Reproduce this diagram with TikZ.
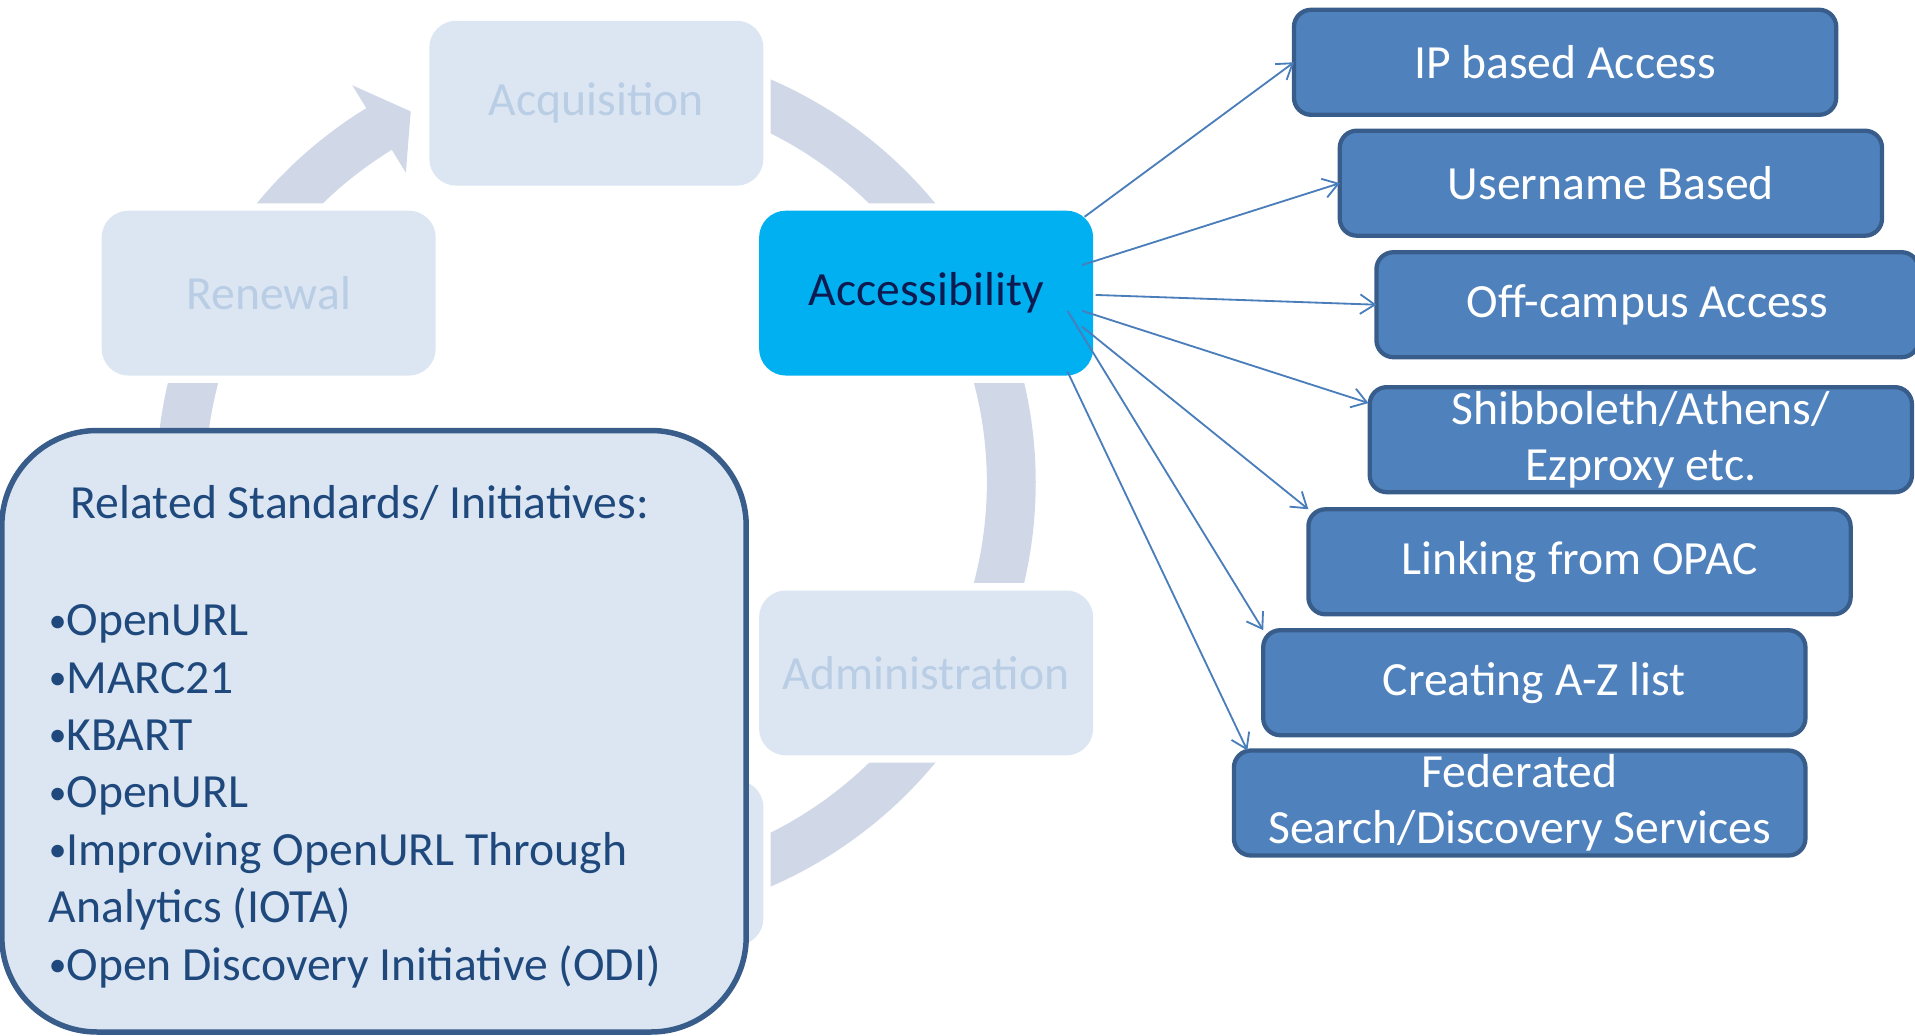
\documentclass[tikz,border=0pt]{standalone}
\usepackage{fontspec}
\setmainfont{Carlito}
\usetikzlibrary{arrows.meta,calc}
\definecolor{ringc}{HTML}{D0D8E8}
\definecolor{lightfill}{HTML}{DCE6F2}
\definecolor{lighttext}{HTML}{B9CDE5}
\definecolor{accfill}{HTML}{00B0F0}
\definecolor{acctext}{HTML}{0E1B50}
\definecolor{bluefill}{HTML}{4F81BD}
\definecolor{blueline}{HTML}{385D8A}
\definecolor{arrowc}{HTML}{4A7EBB}
\definecolor{stdtext}{HTML}{1F497D}
\newcommand{\mybul}{\raisebox{3pt}{\fontsize{29}{29}\selectfont •}}
\begin{document}
\begin{tikzpicture}[x=1pt,y=-1pt,
  every node/.style={inner sep=0pt, outer sep=0pt},
  bigfont/.style={font=\fontsize{39}{46}\selectfont},
  cyclebox/.style={rectangle, rounded corners=22pt, minimum width=273.5pt, minimum height=135pt,
     fill=lightfill, preaction={draw=white, line width=12pt}, text=lighttext, bigfont},
  accbox/.style={cyclebox, fill=accfill, text=acctext},
  optbox/.style={rectangle, rounded corners=14pt, minimum width=444pt, minimum height=86pt,
     fill=bluefill, draw=blueline, line width=3.5pt, text=white, bigfont, align=center},
  connarrow/.style={draw=arrowc, line width=1.5pt,
     -{Straight Barb[length=12pt,width=16pt,line width=1.5pt]}}
]
\useasboundingbox (0,0) rectangle (1568,847.5);

% cycle ring with arrow head
\fill[ringc, shift={(488,395.5)}]
  (-80:360) arc[start angle=-80, end angle=238.5, radius=360]
  -- (238.5:382) -- (243.5:340) -- (238.5:298) -- (238.5:320)
  arc[start angle=238.5, end angle=-80, radius=320] -- cycle;

% cycle boxes
\node[cyclebox] (acq) at (488.3,84.5) {Acquisition};
\node[cyclebox] (ren) at (220,240) {Renewal};
\node[accbox] (acc) at (758.3,240) {Accessibility};
\node[cyclebox] (adm) at (758.3,551) {Administration};
\node[cyclebox] (bot) at (488.3,706.5) {};

% standards box
\node[rectangle, draw=blueline, line width=4.5pt, fill=lightfill, rounded corners=78pt,
      minimum width=609.5pt, minimum height=492.5pt, anchor=north west] (std) at (1.5,352.5) {};
\node[anchor=base west, align=left, font=\fontsize{39}{47}\selectfont, text=stdtext] (stdtxt) at (40,802.5)
  {\hspace*{18pt}Related Standards/ Initiatives:\\[49pt]
   \mybul OpenURL\\
   \mybul MARC21\\
   \mybul KBART\\
   \mybul OpenURL\\
   \mybul Improving OpenURL Through\\
   Analytics (IOTA)\\
   \mybul Open Discovery Initiative (ODI)};

% option boxes
\node[optbox] (ip) at (1281.5,51) {IP based Access};
\node[optbox] (un) at (1319,150) {Username Based};
\node[optbox] (oc) at (1349,249.5) {Off-campus Access};
\node[optbox] (shib) at (1343.5,360) {Shibboleth/Athens/\\Ezproxy etc.};
\node[optbox] (opac) at (1293.3,460) {Linking from OPAC};
\node[optbox] (az) at (1256.3,559) {Creating A-Z list};
\node[optbox, minimum width=468pt] (fed) at (1244.3,657.5) {Federated\\Search/Discovery Services};

% connectors
\draw[connarrow] ([shift={(-7,5)}]acc.north east) -- (ip.west);
\draw[connarrow] ([shift={(-9,-23)}]acc.east) -- (un.west);
\draw[connarrow] ([shift={(2,1.5)}]acc.east) -- (oc.west);
\draw[connarrow] ([shift={(-9,14.5)}]acc.east) -- ([shift={(-1,13)}]shib.north west);
\draw[connarrow] ([shift={(-9,27.5)}]acc.east) -- (opac.north west);
\draw[connarrow] ([shift={(-21,14.5)}]acc.east) -- (az.north west);
\draw[connarrow] ([shift={(-21,-3.3)}]acc.south east) -- ([shift={(11,0)}]fed.north west);
\end{tikzpicture}
\end{document}
